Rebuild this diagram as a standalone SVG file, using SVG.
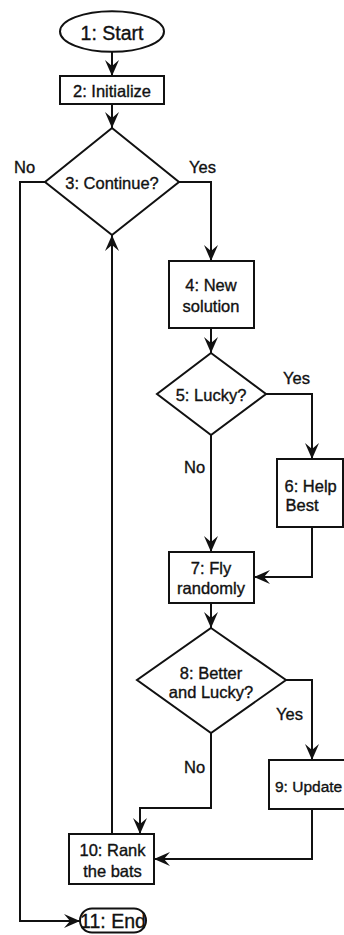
<svg xmlns="http://www.w3.org/2000/svg" width="344" height="935" viewBox="0 0 344 935">
<style>
.s{fill:#fff;stroke:#111;stroke-width:2}
.c{fill:none;stroke:#111;stroke-width:2}
text{font-family:"Liberation Sans",Arial,sans-serif;font-size:16.5px;fill:#111;stroke:#111;stroke-width:0.35}
.m{text-anchor:middle}
.big{font-size:19.5px}
</style>
<defs>
<marker id="a" markerUnits="userSpaceOnUse" markerWidth="18" markerHeight="16" refX="16" refY="8" orient="auto">
<path d="M0,1 L16,8 L0,15 L6,8 z" fill="#111"/>
</marker>
</defs>
<rect width="344" height="935" fill="#fff"/>
<g id="connectors">
<path class="c" d="M112,52 V76" marker-end="url(#a)"/>
<path class="c" d="M112,104 V128" marker-end="url(#a)"/>
<path class="c" d="M45,182 H20 V921 H80" marker-end="url(#a)"/>
<path class="c" d="M179,182 H211 V261" marker-end="url(#a)"/>
<path class="c" d="M211,328 V353" marker-end="url(#a)"/>
<path class="c" d="M266,394 H312 V459" marker-end="url(#a)"/>
<path class="c" d="M211,435 V552" marker-end="url(#a)"/>
<path class="c" d="M312,527 V577 H254" marker-end="url(#a)"/>
<path class="c" d="M211,603 V628" marker-end="url(#a)"/>
<path class="c" d="M286,680 H312 V760" marker-end="url(#a)"/>
<path class="c" d="M211,733 V808 H140 V834" marker-end="url(#a)"/>
<path class="c" d="M312,809 V859 H154" marker-end="url(#a)"/>
<path class="c" d="M112,834 V235" marker-end="url(#a)"/>
<text x="14" y="172.5">No</text>
<text x="189" y="172.5">Yes</text>
<text x="283" y="384">Yes</text>
<text x="184" y="473">No</text>
<text x="276" y="719.5">Yes</text>
<text x="184" y="772.5">No</text>
</g>
<g id="n1"><ellipse class="s" cx="112" cy="31.5" rx="52" ry="20.3"/><text class="m big" x="112" y="40">1: Start</text></g>
<g id="n2"><rect class="s" x="60" y="76" width="104" height="28"/><text class="m" x="112" y="96.5">2: Initialize</text></g>
<g id="n3"><polygon class="s" points="112,128 179,182 112,235 45,182"/><text class="m" x="112" y="189">3: Continue?</text></g>
<g id="n4"><rect class="s" x="169" y="261" width="85" height="67"/><text class="m" x="211" y="291">4: New</text><text class="m" x="211" y="312">solution</text></g>
<g id="n5"><polygon class="s" points="211,353 266,394 211,435 157,394"/><text class="m" x="211" y="401">5: Lucky?</text></g>
<g id="n6"><rect class="s" x="277" y="459" width="66" height="68"/><text x="284.5" y="491.5">6: Help</text><text x="285.5" y="510.5">Best</text></g>
<g id="n7"><rect class="s" x="169" y="552" width="85" height="51"/><text class="m" x="211" y="573.5">7: Fly</text><text class="m" x="211" y="593.5">randomly</text></g>
<g id="n8"><polygon class="s" points="211,628 286,680 211,733 137,680"/><text class="m" x="211" y="678.5">8: Better</text><text class="m" x="211" y="698">and Lucky?</text></g>
<g id="n9"><rect class="s" x="269" y="760" width="90" height="49"/><text x="275" y="791.5" style="font-size:15.5px">9: Update</text></g>
<g id="n10"><rect class="s" x="69" y="834" width="85" height="50"/><text class="m" x="112.5" y="856">10: Rank</text><text class="m" x="112.5" y="876.5">the bats</text></g>
<g id="n11"><rect class="s" x="80" y="908.5" width="66" height="24" rx="12" ry="12"/><text class="m big" x="113" y="928">11: End</text></g>
</svg>
